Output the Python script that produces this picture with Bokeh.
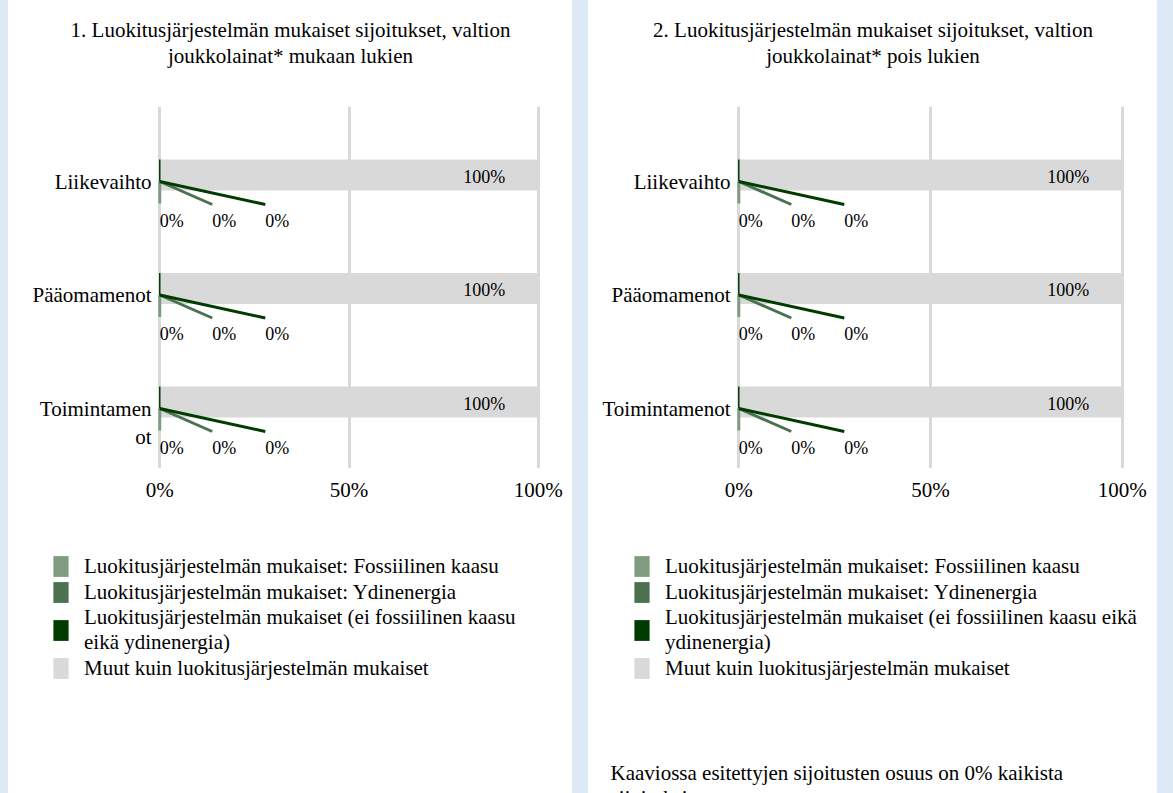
from bokeh.plotting import figure
from bokeh.models import (Range1d, FixedTicker, ColumnDataSource, Legend, LegendItem, Spacer)
from bokeh.layouts import row, column
from bokeh.core.properties import value
from bokeh.embed import file_html
from bokeh.resources import INLINE

# ---------------- data ----------------
categories = ["Liikevaihto", "Pääomamenot", "Toimintamenot"]
category_labels_1 = ["Liikevaihto", "Pääomamenot", "Toimintamen\not"]
category_labels_2 = ["Liikevaihto", "Pääomamenot", "Toimintamenot"]

series_names_1 = [
    "Luokitusjärjestelmän mukaiset: Fossiilinen kaasu",
    "Luokitusjärjestelmän mukaiset: Ydinenergia",
    "Luokitusjärjestelmän mukaiset (ei fossiilinen kaasu\neikä ydinenergia)",
    "Muut kuin luokitusjärjestelmän mukaiset",
]
series_names_2 = [
    "Luokitusjärjestelmän mukaiset: Fossiilinen kaasu",
    "Luokitusjärjestelmän mukaiset: Ydinenergia",
    "Luokitusjärjestelmän mukaiset (ei fossiilinen kaasu eikä\nydinenergia)",
    "Muut kuin luokitusjärjestelmän mukaiset",
]

# Panel 1: valtion joukkolainat mukaan lukien (%)
fossil_gas_1 = [0, 0, 0]
nuclear_1 = [0, 0, 0]
aligned_other_1 = [0, 0, 0]
not_aligned_1 = [100, 100, 100]

# Panel 2: valtion joukkolainat pois lukien (%)
fossil_gas_2 = [0, 0, 0]
nuclear_2 = [0, 0, 0]
aligned_other_2 = [0, 0, 0]
not_aligned_2 = [100, 100, 100]

x_ticks = [0, 50, 100]
x_tick_labels = ["0%", "50%", "100%"]

title_1 = ["1. Luokitusjärjestelmän mukaiset sijoitukset, valtion",
           "joukkolainat* mukaan lukien"]
title_2 = ["2. Luokitusjärjestelmän mukaiset sijoitukset, valtion",
           "joukkolainat* pois lukien"]
footnote_2 = ["Kaaviossa esitettyjen sijoitusten osuus on 0% kaikista",
              "sijoituksista"]

# ---------------- style ----------------
FONT = "Liberation Serif"
BLUE = "#dde9f5"
GRAY = "#d9d9d9"
C_FOSSIL = "#7f9c80"
C_NUCLEAR = "#4b7150"
C_OTHER = "#003c00"
TXT = "#000000"
COLORS = [C_FOSSIL, C_NUCLEAR, C_OTHER, GRAY]

PAGE_H = 793
TITLE_H = 80
CHART_H = 440
LEG_H = PAGE_H - TITLE_H - CHART_H
FRAME_TOP = 26          # px inside chart figure
FRAME_H = 362
CAT_PITCH = 113.5       # px per category
FIRST_CAT = 75          # px from frame top to first category
LINE_PX = 28            # line pitch of wrapped category labels
X0, X1 = -0.6, 100.6


def blank_fig(width, height):
    f = figure(width=width, height=height, output_backend="svg", toolbar_location=None,
               x_range=Range1d(0, width), y_range=Range1d(height, 0),
               x_axis_location=None, y_axis_location=None,
               min_border=0, min_border_left=0, min_border_right=0,
               min_border_top=0, min_border_bottom=0, frame_align=False)
    f.outline_line_color = None
    f.grid.visible = False
    f.background_fill_color = "white"
    f.border_fill_color = "white"
    return f


def make_panel(width, border_left, frame_w, title_lines, cat_labels, vals, names,
               legend_left, footnote=None):
    fossil, nuclear, other, rest = vals

    # ---- title ----
    tf = blank_fig(width, TITLE_H)
    tf.text(x=[width / 2] * len(title_lines), y=[29, 55][:len(title_lines)],
            text=title_lines, text_align="center", text_baseline="middle",
            text_font=value(FONT), text_font_size="21px", text_color=TXT)

    # ---- chart ----
    border_right = width - border_left - frame_w
    border_bottom = CHART_H - FRAME_TOP - FRAME_H
    y_end = -FIRST_CAT / CAT_PITCH
    y_start = y_end + FRAME_H / CAT_PITCH
    px_x = frame_w / (X1 - X0)

    def dy(px):
        return px / CAT_PITCH

    def dx(px):
        return px / px_x

    p = figure(width=width, height=CHART_H, output_backend="svg", toolbar_location=None,
               x_range=Range1d(X0, X1), y_range=Range1d(y_start, y_end),
               min_border_left=border_left, min_border_right=border_right,
               min_border_top=FRAME_TOP, min_border_bottom=border_bottom,
               frame_align=False)
    p.outline_line_color = None
    p.background_fill_color = "white"
    p.border_fill_color = "white"

    p.xaxis.ticker = FixedTicker(ticks=x_ticks)
    p.xaxis.major_label_overrides = {t: l for t, l in zip(x_ticks, x_tick_labels)}
    p.xaxis.axis_line_color = None
    p.xaxis.major_tick_line_color = None
    p.xaxis.minor_tick_line_color = None
    p.xaxis.major_label_standoff = 3
    p.xaxis.major_label_text_font = FONT
    p.xaxis.major_label_text_font_size = "21px"
    p.xaxis.major_label_text_color = TXT

    ys = list(range(len(categories)))
    # category tick labels (a wrapped label continues on an extra line below)
    tick_pos, tick_lab = [], {}
    for i, lab in enumerate(cat_labels):
        for k, line in enumerate(lab.split("\n")):
            pos = i + dy(LINE_PX * k)
            tick_pos.append(pos)
            tick_lab[pos] = line
    p.yaxis.ticker = FixedTicker(ticks=tick_pos)
    p.yaxis.major_label_overrides = tick_lab
    p.yaxis.axis_line_color = None
    p.yaxis.major_tick_line_color = None
    p.yaxis.minor_tick_line_color = None
    p.yaxis.major_tick_out = 0
    p.yaxis.major_tick_in = 0
    p.yaxis.major_label_standoff = 6
    p.yaxis.major_label_text_font = FONT
    p.yaxis.major_label_text_font_size = "21px"
    p.yaxis.major_label_text_color = TXT

    p.xgrid.ticker = FixedTicker(ticks=x_ticks)
    p.xgrid.grid_line_color = GRAY
    p.xgrid.grid_line_width = 3
    p.ygrid.visible = False

    left_f = [0] * len(ys)
    right_f = [a + b for a, b in zip(left_f, fossil)]
    right_n = [a + b for a, b in zip(right_f, nuclear)]
    right_o = [a + b for a, b in zip(right_n, other)]
    right_r = [a + b for a, b in zip(right_o, rest)]

    src = ColumnDataSource(dict(
        y=ys,
        y_bar=[y - dy(6.5) for y in ys],
        y_up=[y - dy(11) for y in ys],
        y_dn=[y + dy(11) for y in ys],
        f0=left_f, f1=right_f, n1=right_n, o1=right_o, r1=right_r,
        lab_f=[f"{v:.0f}%" for v in fossil],
        lab_n=[f"{v:.0f}%" for v in nuclear],
        lab_o=[f"{v:.0f}%" for v in other],
        lab_r=[f"{v:.0f}%" for v in rest],
    ))

    p.hbar(y="y_bar", left="o1", right="r1", height=dy(31), source=src,
           fill_color=GRAY, line_color=None)
    p.hbar(y="y_dn", left="f0", right="f1", height=dy(22), source=src,
           fill_color=C_FOSSIL, line_color=None)
    p.hbar(y="y_dn", left="f1", right="n1", height=dy(22), source=src,
           fill_color=C_NUCLEAR, line_color=None)
    p.hbar(y="y_up", left="n1", right="o1", height=dy(22), source=src,
           fill_color=C_OTHER, line_color=None)

    seg = ColumnDataSource(dict(
        xf=right_f, xn=right_n, xo=right_o,
        y0=ys,
        y_top=[y - dy(22) for y in ys],
        y_bot=[y + dy(22) for y in ys],
        y_end=[y + dy(23) for y in ys],
        xn_end=[v + dx(52.5) for v in right_n],
        xo_end=[v + dx(105.5) for v in right_o],
    ))
    p.segment(x0="xo", y0="y_top", x1="xo", y1="y0", source=seg,
              line_color=C_OTHER, line_width=1.5)
    p.segment(x0="xf", y0="y0", x1="xf", y1="y_bot", source=seg,
              line_color=C_FOSSIL, line_width=3)
    p.segment(x0="xn", y0="y0", x1="xn_end", y1="y_end", source=seg,
              line_color=C_NUCLEAR, line_width=3)
    p.segment(x0="xo", y0="y0", x1="xo_end", y1="y_end", source=seg,
              line_color=C_OTHER, line_width=3)

    common = dict(source=src, text_font=value(FONT), text_font_size="18px",
                  text_color=TXT, text_baseline="middle")
    p.text(x="f1", y="y", text="lab_f", x_offset=0, y_offset=39, text_align="left", **common)
    p.text(x="n1", y="y", text="lab_n", x_offset=52.5, y_offset=39, text_align="left", **common)
    p.text(x="o1", y="y", text="lab_o", x_offset=105.5, y_offset=39, text_align="left", **common)
    p.text(x="r1", y="y", text="lab_r", x_offset=-33, y_offset=-5, text_align="right", **common)

    # ---- legend (+ footnote) ----
    lf = blank_fig(width, LEG_H)
    proxies = []
    for c in COLORS:
        r = lf.hbar(y=ys, left=left_f, right=right_r, height=0.5,
                    fill_color=c, line_color=None, visible=False)
        proxies.append(r)
    legend = Legend(items=[LegendItem(label=n, renderers=[r]) for n, r in zip(names, proxies)],
                    location=(legend_left, 112))
    legend.padding = 0
    legend.margin = 0
    legend.spacing = -2
    legend.glyph_width = 19
    legend.glyph_height = 26
    legend.label_standoff = 14
    legend.label_text_font = FONT
    legend.label_text_font_size = "21px"
    legend.label_text_line_height = 1.3
    legend.label_text_color = TXT
    legend.border_line_color = None
    legend.background_fill_alpha = 0
    legend.inactive_fill_alpha = 0
    lf.add_layout(legend)

    if footnote:
        lf.text(x=[22] * len(footnote), y=[252, 277][:len(footnote)], text=footnote,
                text_align="left", text_baseline="middle",
                text_font=value(FONT), text_font_size="21px", text_color=TXT)

    return column(tf, p, lf, spacing=0)


col1 = make_panel(564, 149, 383, title_1, category_labels_1,
                  (fossil_gas_1, nuclear_1, aligned_other_1, not_aligned_1),
                  series_names_1, 43)
col2 = make_panel(569, 148, 388, title_2, category_labels_2,
                  (fossil_gas_2, nuclear_2, aligned_other_2, not_aligned_2),
                  series_names_2, 44, footnote=footnote_2)

edge_l = Spacer(width=8, height=PAGE_H, styles={"background-color": BLUE})
gap = Spacer(width=16, height=PAGE_H, styles={"background-color": BLUE})
edge_r = Spacer(width=16, height=PAGE_H, styles={"background-color": BLUE})
layout = row(edge_l, col1, gap, col2, edge_r, spacing=0)

open("out.html", "w").write(file_html(layout, INLINE))
